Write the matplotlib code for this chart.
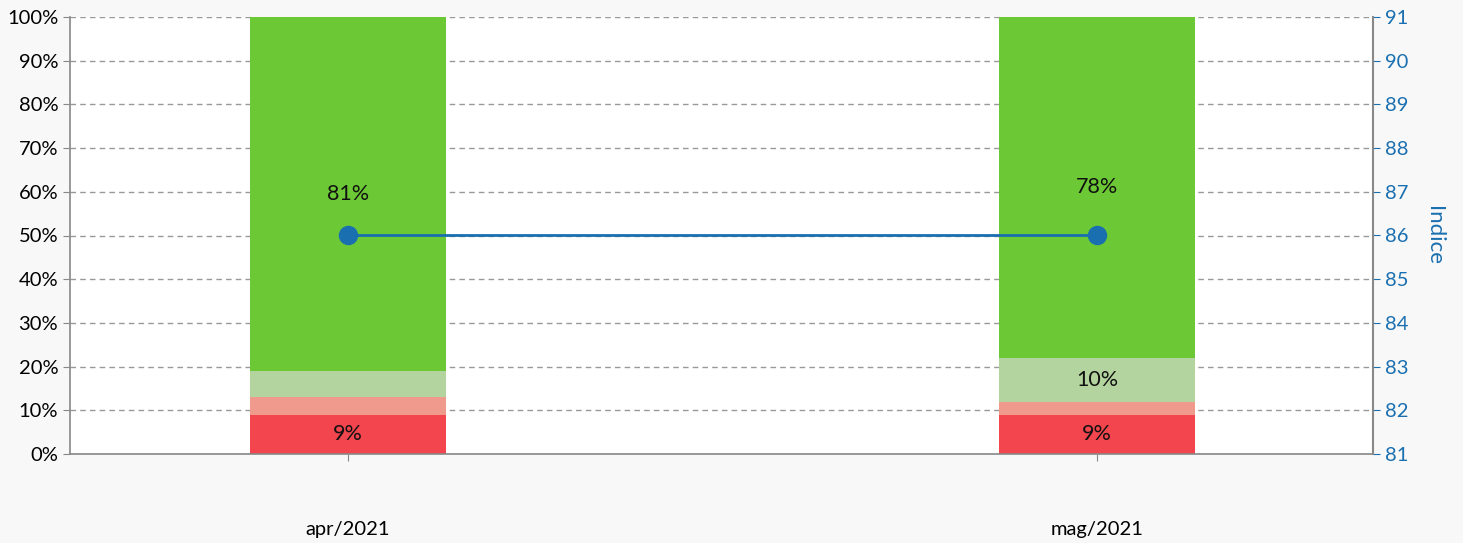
import numpy as np
import matplotlib
matplotlib.use("Agg")
from matplotlib import pyplot as plt
from matplotlib.ticker import PercentFormatter

plt.rcParams['font.family'] = ['Lato', 'DejaVu Sans']

months = ['apr/2021', 'mag/2021']
red = [9, 9]
light_red = [4, 3]
light_green = [6, 10]
green = [81, 78]
indice = [86, 86]

colors = ['#f2454e', '#f09a8e', '#b3d49e', '#6cc935']
blue = '#1a6fb0'

fig = plt.figure(figsize=(14.63, 5.43), dpi=100, facecolor='#f8f8f8')
ax1 = fig.add_axes([70 / 1463, 1 - 454 / 543, 1303 / 1463, 437 / 543])
ax1.set_facecolor('white')

x = np.arange(len(months))
bottom = np.zeros(len(months))
for vals, c in zip([red, light_red, light_green, green], colors):
    vals = np.array(vals, dtype=float)
    ax1.bar(x, vals, width=0.262, bottom=bottom, color=c, zorder=2)
    for xi, b, v in zip(x, bottom, vals):
        if v >= 9:
            ax1.text(xi, b + v / 2, f'{v:.0f}%', ha='center', va='center',
                     fontsize=15.5, color='#111111', zorder=4)
    bottom += vals

ax1.set_xlim(-0.371, 1.368)
ax1.set_ylim(0, 100)
ax1.set_yticks(np.arange(0, 101, 10))
ax1.yaxis.set_major_formatter(PercentFormatter(decimals=0))
ax1.set_xticks(x)
ax1.set_xticklabels(months)
ax1.tick_params(axis='x', length=5, pad=43, labelsize=14.5, color='#888888')
ax1.tick_params(axis='y', length=5, labelsize=14.5, color='#888888')
ax1.grid(axis='y', linestyle=(0, (4, 3)), color='#999999', linewidth=1, zorder=1)
ax1.set_axisbelow(True)
for s in ['left', 'bottom']:
    ax1.spines[s].set_color('#888888')
    ax1.spines[s].set_linewidth(1.2)
ax1.spines['top'].set_visible(False)
ax1.spines['right'].set_visible(False)

ax2 = ax1.twinx()
ax2.plot(x, indice, color=blue, linewidth=2, marker='o', markersize=13, zorder=5)
ax2.set_ylim(81, 91)
ax2.set_yticks(np.arange(81, 92, 1))
ax2.tick_params(axis='y', colors=blue, length=5, labelsize=14.5)
ax2.set_ylabel('Indice', color=blue, fontsize=16, rotation=270, labelpad=26)
ax2.spines['right'].set_color('#888888')
ax2.spines['right'].set_linewidth(1.5)
for s in ['left', 'top', 'bottom']:
    ax2.spines[s].set_visible(False)

plt.savefig('out.png', dpi=100, facecolor=fig.get_facecolor())
